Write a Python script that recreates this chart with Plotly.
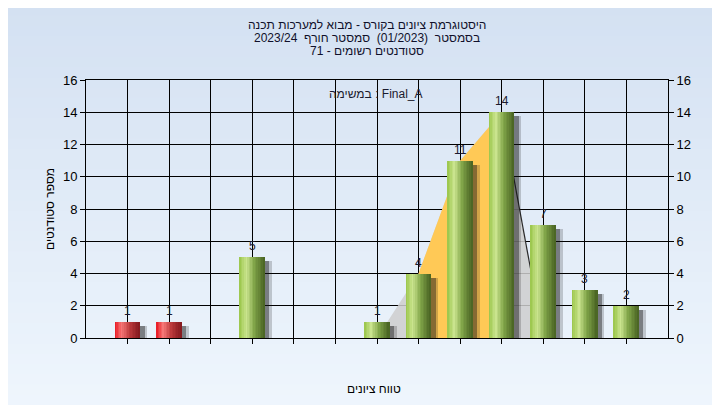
import plotly.graph_objects as go

# ---------------- data ----------------
categories = [40, 45, 50, 55, 60, 65, 70, 75, 80, 85, 90, 95, 100]
counts = [1, 1, 0, 5, 0, 0, 1, 4, 11, 14, 7, 3, 2]
tick_labels = ["40", "45", "50", "55", "60", "65", "70", "(Q1 75)", "80",
               "(Q3 85)", "90", "95", "100"]
passing_grade = 55
area_x = [70, 75, 80, 85, 90]
area_y = [0, 4, 11, 14, 0]
q1, q3 = 75, 85

title_lines = [
    "היסטוגרמת ציונים בקורס - מבוא למערכות תכנה",
    "בסמסטר \u00a0(01/2023) \u00a0סמסטר חורף \u00a02023/24",
    "סטודנטים רשומים - 71",
]
legend_text = "במשימה : Final_A"
x_title = "טווח ציונים"
y_title = "מספר סטודנטים"

FONT = "Liberation Sans, Arial, DejaVu Sans, sans-serif"


def lerp_stops(stops, t):
    for (t0, c0), (t1, c1) in zip(stops[:-1], stops[1:]):
        if t0 <= t <= t1:
            f = (t - t0) / (t1 - t0)
            return "rgb(%d,%d,%d)" % tuple(round(a + (b - a) * f) for a, b in zip(c0, c1))
    return "rgb(%d,%d,%d)" % stops[-1][1]


green_stops = [(0.0, (152, 196, 72)), (0.28, (202, 228, 142)), (0.6, (128, 164, 72)), (1.0, (72, 98, 34))]
red_stops = [(0.0, (232, 22, 32)), (0.28, (246, 118, 118)), (0.6, (188, 58, 60)), (1.0, (130, 24, 30))]

fig = go.Figure()

# ---- frequency area (behind bars) ----
fig.add_trace(go.Scatter(x=area_x, y=area_y, mode="lines", line=dict(width=0),
                         fill="tozeroy", fillcolor="rgba(206,206,206,0.85)",
                         hoverinfo="skip", xaxis="x", yaxis="y"))
qx = [x for x in area_x if q1 <= x <= q3]
qy = [y for x, y in zip(area_x, area_y) if q1 <= x <= q3]
fig.add_trace(go.Scatter(x=qx, y=qy, mode="lines", line=dict(width=0),
                         fill="tozeroy", fillcolor="#FFC956",
                         hoverinfo="skip", xaxis="x", yaxis="y"))
fig.add_trace(go.Scatter(x=area_x[-2:], y=area_y[-2:], mode="lines",
                         line=dict(color="#2a2a2a", width=1.2),
                         hoverinfo="skip", xaxis="x", yaxis="y"))

# ---- bars on overlay axis (drawn above area) ----
bar_w = 3.0
shadow_y = [max(c - 0.25, 0) for c in counts]
fig.add_trace(go.Bar(x=categories, y=shadow_y, width=bar_w + 0.5, offset=-bar_w / 2 + 0.35,
                     marker=dict(color="rgba(20,20,20,0.2)", line=dict(width=0)),
                     xaxis="x", yaxis="y2", hoverinfo="skip"))
fig.add_trace(go.Bar(x=categories, y=shadow_y, width=bar_w - 0.2, offset=-bar_w / 2 + 0.75,
                     marker=dict(color="rgba(20,20,20,0.4)", line=dict(width=0)),
                     xaxis="x", yaxis="y2", hoverinfo="skip"))

N = 16
sw = bar_w / N
for i in range(N):
    t = (i + 0.5) / N
    cols = [lerp_stops(green_stops if c >= passing_grade else red_stops, t) for c in categories]
    fig.add_trace(go.Bar(x=categories, y=counts, width=sw * 1.15, offset=-bar_w / 2 + i * sw,
                         marker=dict(color=cols, line=dict(width=0)),
                         xaxis="x", yaxis="y2", hoverinfo="skip"))

annotations = []
# value labels
for c, v in zip(categories, counts):
    if v > 0:
        annotations.append(dict(x=c, y=v, xref="x", yref="y", text=str(v), showarrow=False,
                                yanchor="bottom", yshift=2,
                                font=dict(family=FONT, size=12, color="#1a1a2e")))
# x tick labels in two staggered rows
for i, (c, lab) in enumerate(zip(categories, tick_labels)):
    annotations.append(dict(x=c, y=(-2.36 if i % 2 == 0 else -1.05), xref="x", yref="y",
                            text=lab, showarrow=False, yanchor="middle",
                            font=dict(family=FONT, size=11, color="black")))
# titles
for j, (line, ypx) in enumerate(zip(title_lines, [17, 30, 43])):
    annotations.append(dict(x=(359 - 78) / 582, y=1 + (72 - ypx) / 258, xref="paper", yref="paper",
                            text=line, showarrow=False, yanchor="middle",
                            font=dict(family=FONT, size=12, color="#10102a")))
annotations.append(dict(x=(368 - 78) / 582, y=(330 - 86) / 258, xref="paper", yref="paper",
                        text=legend_text, showarrow=False, yanchor="middle",
                        font=dict(family=FONT, size=12, color="#1a1a2e")))
annotations.append(dict(x=(366 - 78) / 582, y=-(381 - 330) / 258, xref="paper", yref="paper",
                        text=x_title, showarrow=False, yanchor="middle",
                        font=dict(family=FONT, size=12, color="black")))
annotations.append(dict(x=(33 - 78) / 582, y=(330 - 201) / 258, xref="paper", yref="paper",
                        text=y_title, showarrow=False, textangle=-90,
                        font=dict(family=FONT, size=12, color="black")))

# background gradient bands
shapes = []
nb = 40
y_bot, y_top = -75 / 258 - 0.01, 1 + 72 / 258 + 0.01
top_c, bot_c = (212, 225, 242), (239, 246, 253)
for k in range(nb):
    f = k / (nb - 1)
    col = "rgb(%d,%d,%d)" % tuple(round(a + (b - a) * f) for a, b in zip(top_c, bot_c))
    y1 = y_top - (y_top - y_bot) * k / nb
    y0 = y_top - (y_top - y_bot) * (k + 1) / nb - 0.005
    shapes.append(dict(type="rect", xref="paper", yref="paper", x0=-0.2, x1=1.2, y0=y0, y1=y1,
                       fillcolor=col, line=dict(width=0), layer="below"))

axis_font = dict(family=FONT, size=13, color="black")
fig.update_layout(
    width=720, height=405,
    margin=dict(l=78, r=60, t=72, b=75),
    paper_bgcolor="#E3ECF8", plot_bgcolor="#B4B4B4",
    barmode="overlay", bargap=0, showlegend=False,
    xaxis=dict(range=[35, 105], tickvals=categories, showticklabels=False,
               ticks="outside", ticklen=5, tickcolor="black",
               showgrid=True, gridcolor="black", gridwidth=1,
               showline=True, linecolor="black", linewidth=1, mirror=True, zeroline=False),
    yaxis=dict(range=[0, 16], tick0=0, dtick=2, ticks="outside", ticklen=5, tickcolor="black",
               showgrid=True, gridcolor="black", gridwidth=1,
               showline=True, linecolor="black", mirror=True, zeroline=False,
               tickfont=axis_font),
    yaxis2=dict(range=[0, 16], tick0=0, dtick=2, overlaying="y", side="right",
                ticks="outside", ticklen=5, tickcolor="black", showgrid=False,
                showline=True, linecolor="black", zeroline=False, tickfont=axis_font),
    annotations=annotations,
    shapes=shapes,
)

fig.write_html("out.html")
